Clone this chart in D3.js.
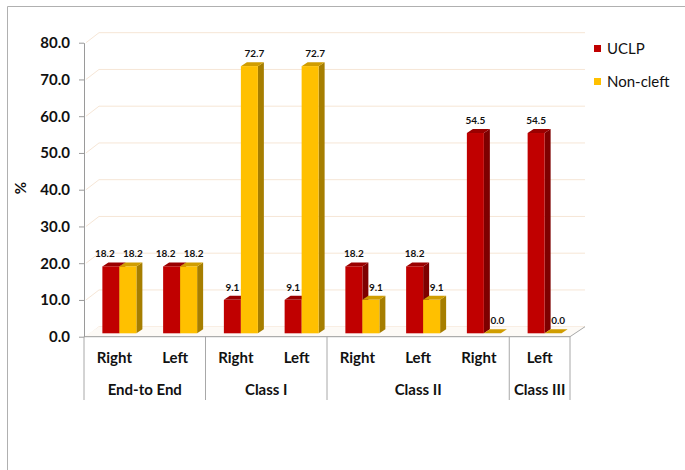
<!DOCTYPE html>
<meta charset="utf-8">
<script src="https://d3js.org/d3.v7.min.js"></script>
<style>
  body { margin: 0; background: #fff; }
  text { font-family: Lato, "Open Sans", sans-serif; fill: #111; }
</style>
<div id="chart"></div>
<script>

// data
var categories = ["Right", "Left", "Right", "Left", "Right", "Left", "Right", "Left"];
var groups = [
  {name: "End-to End", from: 0, to: 2},
  {name: "Class I", from: 2, to: 4},
  {name: "Class II", from: 4, to: 7},
  {name: "Class III", from: 7, to: 8}
];
var seriesNames = ["UCLP", "Non-cleft"];
var uclp = [18.2, 18.2, 9.1, 9.1, 18.2, 18.2, 54.5, 54.5];
var noncleft = [18.2, 18.2, 72.7, 72.7, 9.1, 9.1, 0.0, 0.0];
var yTicks = [0, 10, 20, 30, 40, 50, 60, 70, 80];

var colors = [
  {front: "#c00000", side: "#7e0000", top: "#9a0000"},
  {front: "#ffc000", side: "#a67e00", top: "#d09d00"}
];

var width = 685, height = 470;
var svg = d3.select("#chart").append("svg")
  .attr("width", width)
  .attr("height", height);

// outer frame (right and bottom edges fall outside the picture)
svg.append("path")
  .attr("d", "M7.5,470V6.5H685")
  .attr("fill", "none")
  .attr("stroke", "#b0b0b0");

var x0 = 84, x1 = 570, yBase = 336.7;
var depth = {dx: 15, dy: -10};     // floor / wall depth
var barOff = {dx: 5, dy: -3.4};   // bars sit a bit behind the front edge
var barDepth = {dx: 6, dy: -4};

var x = d3.scaleBand().domain(d3.range(categories.length)).range([x0, x1]);
var y = d3.scaleLinear().domain([0, 80]).range([yBase, 42.7]);
var xs = d3.scaleBand().domain([0, 1]).range([0, 34]);

// back wall gridlines (with side wall diagonal)
svg.append("g").selectAll("path")
  .data(yTicks)
  .enter().append("path")
  .attr("d", function (d) {
    var yy = y(d);
    return "M" + (x0 + 2) + "," + yy + "L" + (x0 + depth.dx) + "," + (yy + depth.dy) +
      "H" + (x1 + depth.dx);
  })
  .attr("fill", "none")
  .attr("stroke", "#f6e6d6")
  .attr("stroke-width", 1);

// floor
svg.append("path")
  .attr("d", "M" + x0 + "," + yBase + "H" + x1 + "L" + (x1 + depth.dx) + "," + (yBase + depth.dy) +
    "H" + (x0 + depth.dx) + "Z")
  .attr("fill", "#fdfaf6")
  .attr("stroke", "none");
svg.append("path")
  .attr("d", "M" + x1 + "," + yBase + "L" + (x1 + depth.dx) + "," + (yBase + depth.dy))
  .attr("stroke", "#a8a8a8")
  .attr("fill", "none");

// bars
var bars = [];
categories.forEach(function (c, i) {
  [uclp[i], noncleft[i]].forEach(function (v, s) {
    bars.push({cat: i, s: s, v: v});
  });
});

var barW = xs.bandwidth();
function bx(d) { return x(d.cat) + (x.bandwidth() - 34) / 2 + xs(d.s) + barOff.dx; }
function by(d) { return y(d.v) + barOff.dy; }
var by0 = y(0) + barOff.dy;

// label nudge: yellow labels sit to the right, red ones move left when they'd collide
function labelDx(d) {
  if (d.s === 1) return 5;
  var other = noncleft[d.cat];
  return Math.abs(y(other) - y(d.v)) < 12 ? -6 : 0;
}

var g = svg.append("g").selectAll("g")
  .data(bars)
  .enter().append("g");

g.append("path")
  .attr("d", function (d) {
    var l = bx(d) + barW, t = by(d);
    return "M" + l + "," + t + "L" + (l + barDepth.dx) + "," + (t + barDepth.dy) +
      "V" + (by0 + barDepth.dy) + "L" + l + "," + by0 + "Z";
  })
  .attr("fill", function (d) { return colors[d.s].side; });

g.append("path")
  .attr("d", function (d) {
    var l = bx(d), t = by(d);
    return "M" + l + "," + t + "L" + (l + barDepth.dx) + "," + (t + barDepth.dy) +
      "H" + (l + barW + barDepth.dx) + "L" + (l + barW) + "," + t + "Z";
  })
  .attr("fill", function (d) { return colors[d.s].top; });

g.append("rect")
  .attr("x", bx)
  .attr("y", by)
  .attr("width", barW)
  .attr("height", function (d) { return by0 - by(d); })
  .attr("fill", function (d) { return colors[d.s].front; });

g.append("text")
  .attr("x", function (d) { return bx(d) + barW / 2 + labelDx(d); })
  .attr("y", function (d) { return by(d) - 9; })
  .attr("text-anchor", "middle")
  .style("font-size", "10px")
  .style("font-weight", "bold")
  .text(function (d) { return d.v.toFixed(1); });

// y axis
var yAxis = svg.append("g")
  .attr("transform", "translate(" + x0 + ",0)")
  .call(d3.axisLeft(y).tickValues(yTicks).tickSize(5).tickSizeOuter(0).tickPadding(9)
    .tickFormat(d3.format(".1f")));
yAxis.select(".domain").attr("stroke", "#9a9a9a");
yAxis.selectAll(".tick line").attr("stroke", "#9a9a9a");
yAxis.selectAll(".tick text")
  .style("font-size", "15px")
  .style("font-weight", "bold")
  .style("font-family", "Lato, sans-serif")
  .attr("fill", "#111");

svg.append("text")
  .attr("transform", "translate(26,188) rotate(-90)")
  .attr("text-anchor", "middle")
  .style("font-size", "15px")
  .style("font-weight", "bold")
  .text("%");

// category axis
svg.append("line")
  .attr("x1", x0).attr("x2", x1)
  .attr("y1", yBase).attr("y2", yBase)
  .attr("stroke", "#9a9a9a");

svg.append("g").selectAll("text")
  .data(categories)
  .enter().append("text")
  .attr("x", function (d, i) { return x(i) + x.bandwidth() / 2; })
  .attr("y", 363)
  .attr("text-anchor", "middle")
  .style("font-size", "15px")
  .style("font-weight", "bold")
  .text(function (d) { return d; });

var sepX = [x0].concat(groups.map(function (gr) {
  return gr.to < categories.length ? x(gr.to) : x1;
}));
svg.append("g").selectAll("line")
  .data(sepX)
  .enter().append("line")
  .attr("x1", function (d) { return d; })
  .attr("x2", function (d) { return d; })
  .attr("y1", yBase)
  .attr("y2", 400)
  .attr("stroke", "#a8a8a8");

svg.append("g").selectAll("text")
  .data(groups)
  .enter().append("text")
  .attr("x", function (d) {
    var end = d.to < categories.length ? x(d.to) : x1;
    return (x(d.from) + end) / 2;
  })
  .attr("y", 395)
  .attr("text-anchor", "middle")
  .style("font-size", "15px")
  .style("font-weight", "bold")
  .text(function (d) { return d.name; });

// legend
var leg = svg.append("g").selectAll("g")
  .data(seriesNames)
  .enter().append("g")
  .attr("transform", function (d, i) { return "translate(594," + (48.5 + i * 33) + ")"; });
leg.append("rect")
  .attr("x", 0).attr("y", -3.5)
  .attr("width", 7).attr("height", 7)
  .attr("fill", function (d, i) { return colors[i].front; });
leg.append("text")
  .attr("x", 13)
  .attr("dy", "0.35em")
  .style("font-size", "15px")
  .text(function (d) { return d; });

</script>
